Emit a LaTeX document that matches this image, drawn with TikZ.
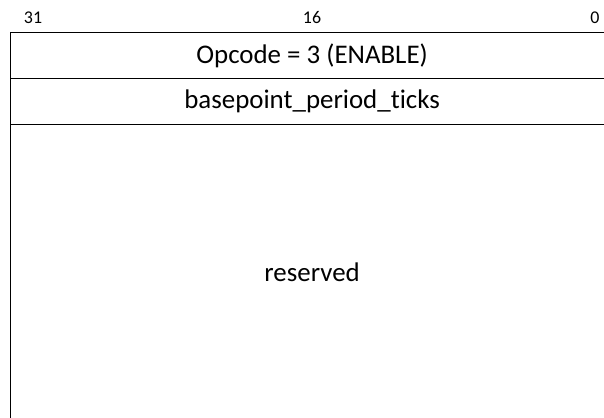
\documentclass[tikz,border=0pt]{standalone}
\usepackage{fontspec}
\setmainfont{Carlito}[Ligatures={NoCommon}]
\begin{document}
\begin{tikzpicture}[x=1bp,y=-1bp,
  field/.style={draw=black, line width=1.2bp, minimum width=604bp, anchor=north west, inner sep=0pt, font=\fontsize{27}{31}\selectfont},
  bitlbl/.style={font=\fontsize{18}{21}\selectfont, inner sep=0pt}]
\useasboundingbox (0,0) rectangle (604,417);
\clip (0,0) rectangle (604,417);
\node[field, minimum height=46bp] (op) at (9.5,32) {Opcode = 3 (ENABLE)};
\node[field, minimum height=46bp] (bp) at (9.5,78) {basepoint\_period\_ticks};
\node[field, minimum height=296bp] (rs) at (9.5,124) {reserved};
\node[bitlbl] (b31) at (33,18) {31};
\node[bitlbl] (b16) at (312,18) {16};
\node[bitlbl] (b0) at (595,18) {0};
\end{tikzpicture}
\end{document}
